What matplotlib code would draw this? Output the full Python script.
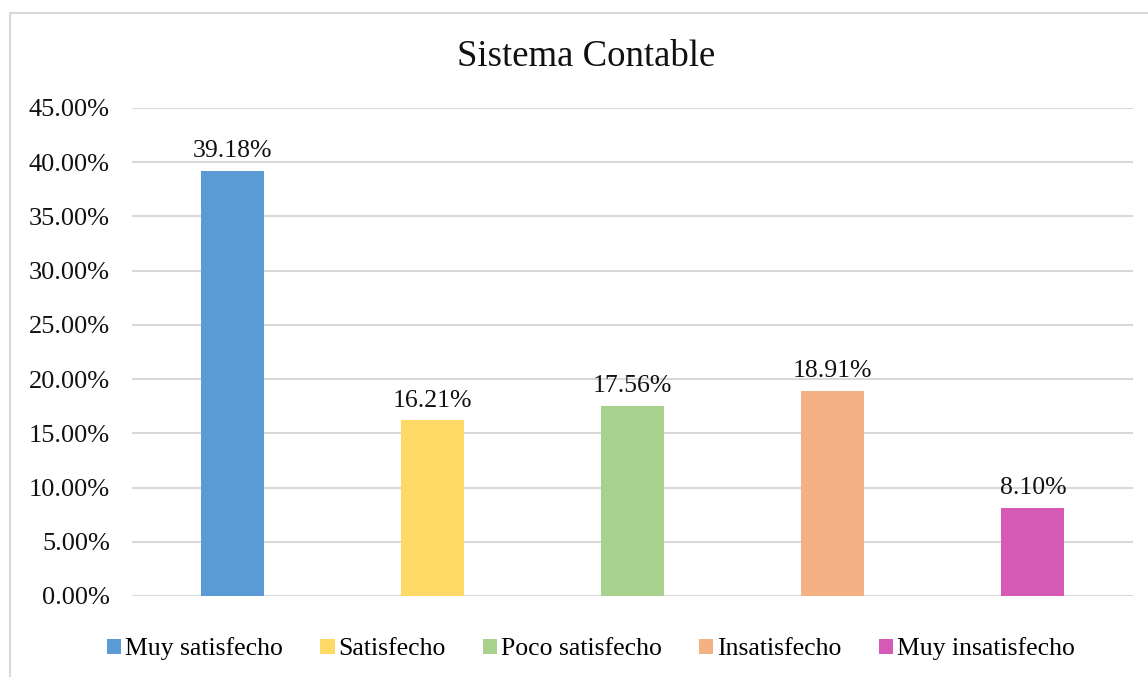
import matplotlib.pyplot as plt
from matplotlib.patches import Rectangle, Patch
from matplotlib.ticker import FuncFormatter

categorias = ["Muy satisfecho", "Satisfecho", "Poco satisfecho", "Insatisfecho", "Muy insatisfecho"]
porcentajes = [39.18, 16.21, 17.56, 18.91, 8.10]
colores = ["#5B9BD5", "#FFD966", "#A9D18E", "#F4B183", "#D55AB5"]
yticks = [0, 5, 10, 15, 20, 25, 30, 35, 40, 45]

plt.rcParams['font.family'] = ['Liberation Serif', 'DejaVu Serif']

W, H = 1148, 677
fig = plt.figure(figsize=(W / 100, H / 100), dpi=100)

# marco exterior gris
fig.patches.append(Rectangle((10 / W, -0.1), 1.2, 1 - 13 / H + 0.1, transform=fig.transFigure,
                             fill=False, edgecolor='#d9d9d9', linewidth=1.5))

ax = fig.add_axes([132 / W, 1 - 596 / H, (1133 - 132) / W, (596 - 108) / H])
x = range(len(categorias))
bars = ax.bar(x, porcentajes, width=0.315, color=colores, zorder=3)
for xi, v in zip(x, porcentajes):
    ax.text(xi, v + 0.8, f"{v:.2f}%", ha='center', va='bottom', fontsize=18.5, color='#111111')

ax.set_xlim(-0.5, len(categorias) - 0.5)
ax.set_ylim(0, 45)
ax.set_yticks(yticks)
ax.yaxis.set_major_formatter(FuncFormatter(lambda v, p: f"{v:.2f}%"))
ax.tick_params(axis='y', length=0, labelsize=19, pad=16, labelcolor='#111111')
ax.set_xticks([])
ax.grid(axis='y', color='#d9d9d9', linewidth=1.5, zorder=0)
for s in ax.spines.values():
    s.set_visible(False)

fig.text(586 / W, 1 - 57 / H, "Sistema Contable", ha='center', va='center', fontsize=26.5, color='#111111')

handles = [Patch(facecolor=c, edgecolor='none') for c in colores]
fig.legend(handles, categorias, loc='center', bbox_to_anchor=(591 / W, 1 - 649 / H), ncol=5,
           frameon=False, fontsize=18.5, handlelength=0.55, handleheight=0.55, handletextpad=0.15,
           columnspacing=1.45)

fig.savefig("out.png", dpi=100)
